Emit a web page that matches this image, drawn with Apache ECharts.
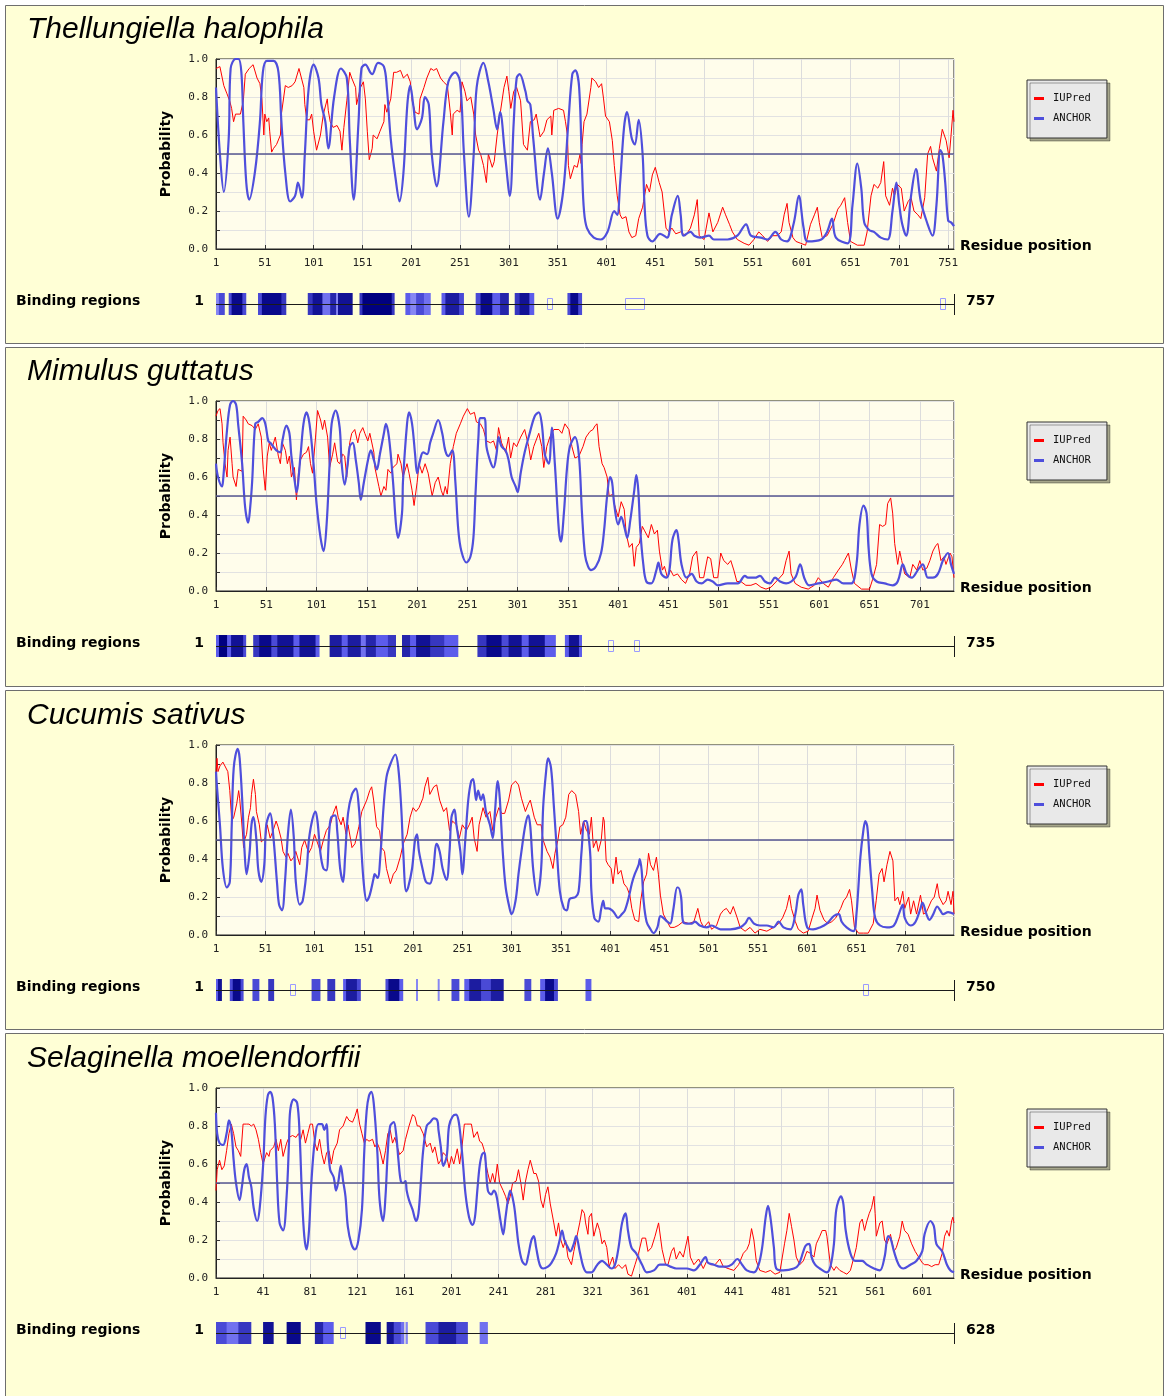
<!DOCTYPE html>
<html>
<head>
<meta charset="utf-8">
<script src="https://cdn.jsdelivr.net/npm/echarts@6/dist/echarts.min.js"></script>
<style>
  html, body { margin: 0; padding: 0; background: #ffffff; }
  #chart { width: 1164px; height: 1396px; }
</style>
</head>
<body>
<div id="chart"></div>
<script>
// ---- Sequence lengths and species ----
const speciesNames = ['Thellungiella halophila', 'Mimulus guttatus', 'Cucumis sativus', 'Selaginella moellendorffii'];
const seqLengths = [757, 735, 750, 628];
const tickSteps = [50, 50, 50, 40];

// ---- IUPred / ANCHOR profiles: [residue, probability] ----
const thelIUPred = [[1,0.95],[5,0.96],[9,0.86],[12,0.82],[15,0.78],[17,0.74],[19,0.67],[21,0.71],[26,0.71],[27,0.70],[29,0.78],[31,0.92],[35,0.95],[39,0.97],[43,0.90],[46,0.87],[48,0.79],[50,0.60],[51,0.71],[53,0.67],[55,0.69],[56,0.62],[58,0.51],[60,0.53],[63,0.55],[67,0.60],[68,0.71],[72,0.86],[75,0.85],[79,0.86],[82,0.88],[86,0.95],[88,0.96],[91,0.85],[92,0.76],[94,0.68],[97,0.68],[99,0.71],[101,0.62],[104,0.52],[106,0.53],[108,0.60],[111,0.71],[115,0.79],[116,0.73],[118,0.67],[121,0.64],[125,0.65],[128,0.62],[130,0.52],[132,0.64],[135,0.78],[138,0.93],[140,0.90],[144,0.85],[145,0.76],[149,0.85],[152,0.88],[154,0.79],[156,0.62],[158,0.47],[161,0.53],[162,0.60],[166,0.58],[169,0.62],[173,0.67],[174,0.76],[176,0.72],[180,0.79],[183,0.93],[186,0.93],[190,0.94],[193,0.90],[197,0.92],[200,0.88],[202,0.78],[205,0.72],[209,0.71],[210,0.79],[214,0.85],[217,0.90],[221,0.95],[224,0.94],[227,0.95],[231,0.90],[234,0.88],[238,0.86],[241,0.72],[243,0.60],[244,0.71],[248,0.73],[251,0.72],[253,0.88],[256,0.83],[258,0.78],[262,0.80],[265,0.71],[267,0.60],[270,0.52],[272,0.50],[275,0.44],[278,0.35],[280,0.50],[284,0.43],[286,0.46],[289,0.60],[292,0.71],[296,0.85],[299,0.91],[301,0.83],[303,0.74],[306,0.83],[309,0.85],[313,0.78],[316,0.55],[320,0.52],[323,0.67],[327,0.68],[329,0.71],[332,0.62],[333,0.59],[337,0.62],[340,0.68],[344,0.70],[345,0.60],[347,0.73],[352,0.74],[357,0.73],[359,0.67],[361,0.60],[362,0.44],[364,0.37],[368,0.44],[371,0.43],[374,0.50],[375,0.45],[376,0.55],[378,0.67],[381,0.71],[385,0.85],[386,0.90],[390,0.88],[393,0.85],[396,0.87],[398,0.79],[400,0.70],[404,0.67],[407,0.57],[409,0.44],[412,0.28],[415,0.18],[417,0.16],[421,0.17],[424,0.09],[427,0.06],[431,0.07],[434,0.16],[438,0.22],[439,0.25],[442,0.34],[445,0.30],[448,0.39],[451,0.43],[455,0.35],[458,0.30],[462,0.11],[465,0.09],[468,0.11],[472,0.08],[477,0.09],[482,0.07],[487,0.11],[491,0.18],[494,0.26],[496,0.07],[501,0.05],[506,0.19],[510,0.09],[515,0.14],[520,0.22],[523,0.18],[527,0.13],[530,0.09],[535,0.05],[542,0.03],[547,0.02],[552,0.05],[557,0.09],[561,0.07],[566,0.04],[571,0.07],[576,0.07],[580,0.09],[583,0.18],[586,0.24],[588,0.14],[592,0.06],[595,0.04],[600,0.03],[605,0.02],[610,0.13],[614,0.18],[617,0.22],[619,0.14],[622,0.06],[627,0.07],[633,0.13],[638,0.21],[641,0.23],[645,0.27],[648,0.14],[651,0.04],[658,0.02],[665,0.02],[668,0.09],[672,0.28],[675,0.34],[679,0.32],[682,0.35],[685,0.46],[687,0.28],[691,0.23],[694,0.32],[696,0.28],[699,0.34],[703,0.32],[706,0.20],[710,0.25],[713,0.27],[716,0.20],[720,0.18],[723,0.16],[727,0.27],[730,0.50],[733,0.54],[735,0.48],[739,0.41],[742,0.53],[745,0.63],[749,0.57],[752,0.48],[754,0.60],[756,0.73],[757,0.67]];
const thelANCHOR = [[1,0.85],[5,0.50],[9,0.30],[14,0.58],[16,0.95],[21,1.0],[24,1.0],[27,0.93],[29,0.67],[32,0.35],[35,0.26],[41,0.41],[46,0.67],[49,0.93],[53,0.99],[60,0.99],[65,0.93],[68,0.67],[72,0.40],[77,0.25],[82,0.28],[85,0.35],[89,0.27],[92,0.50],[96,0.85],[101,0.97],[106,0.90],[109,0.76],[113,0.67],[116,0.53],[122,0.80],[129,0.95],[135,0.90],[138,0.58],[142,0.26],[147,0.67],[150,0.95],[154,0.97],[159,0.93],[161,0.92],[167,0.98],[173,0.96],[176,0.85],[180,0.58],[185,0.37],[189,0.25],[193,0.40],[197,0.76],[200,0.86],[203,0.76],[207,0.63],[212,0.69],[215,0.80],[219,0.76],[222,0.50],[227,0.33],[234,0.67],[239,0.88],[246,0.93],[251,0.88],[255,0.50],[260,0.17],[265,0.50],[268,0.85],[275,0.98],[280,0.88],[285,0.74],[289,0.63],[292,0.72],[297,0.50],[302,0.28],[306,0.67],[309,0.90],[312,0.92],[318,0.83],[320,0.78],[323,0.76],[326,0.58],[333,0.26],[337,0.40],[341,0.53],[345,0.40],[351,0.16],[357,0.32],[362,0.67],[366,0.92],[369,0.94],[373,0.85],[376,0.41],[378,0.20],[381,0.11],[388,0.06],[395,0.05],[402,0.09],[409,0.20],[412,0.18],[415,0.35],[419,0.64],[422,0.72],[427,0.58],[430,0.55],[434,0.68],[438,0.50],[440,0.23],[443,0.07],[448,0.04],[456,0.08],[463,0.06],[468,0.18],[474,0.28],[477,0.18],[480,0.07],[487,0.09],[491,0.07],[497,0.06],[506,0.07],[511,0.05],[525,0.05],[535,0.07],[544,0.13],[549,0.07],[559,0.06],[566,0.05],[574,0.09],[580,0.05],[586,0.04],[593,0.14],[598,0.28],[603,0.11],[607,0.04],[621,0.05],[627,0.09],[632,0.16],[636,0.06],[648,0.03],[653,0.23],[658,0.45],[662,0.32],[665,0.14],[670,0.10],[675,0.09],[682,0.06],[689,0.05],[694,0.20],[698,0.35],[701,0.23],[704,0.13],[708,0.07],[713,0.28],[718,0.42],[723,0.25],[730,0.13],[735,0.07],[739,0.23],[743,0.52],[745,0.50],[748,0.35],[751,0.15],[754,0.14],[757,0.12]];

const mimIUPred = [[1,0.92],[3,0.95],[5,0.96],[7,0.88],[8,0.78],[10,0.67],[12,0.60],[13,0.74],[15,0.81],[17,0.67],[18,0.60],[21,0.55],[23,0.64],[27,0.63],[28,0.92],[31,0.90],[33,0.88],[37,0.87],[40,0.85],[43,0.88],[46,0.81],[48,0.64],[50,0.53],[52,0.71],[54,0.78],[56,0.74],[60,0.81],[61,0.82],[63,0.71],[65,0.67],[67,0.78],[70,0.74],[72,0.67],[74,0.71],[76,0.60],[79,0.65],[81,0.48],[83,0.62],[85,0.69],[88,0.72],[91,0.73],[93,0.76],[95,0.67],[97,0.62],[100,0.81],[102,0.95],[105,0.90],[107,0.85],[109,0.90],[112,0.81],[114,0.65],[117,0.72],[119,0.78],[122,0.68],[124,0.67],[127,0.72],[129,0.71],[131,0.60],[134,0.78],[136,0.83],[139,0.85],[142,0.78],[144,0.83],[147,0.86],[149,0.83],[152,0.79],[154,0.83],[158,0.73],[159,0.65],[163,0.55],[165,0.50],[168,0.55],[170,0.53],[172,0.64],[175,0.62],[177,0.65],[181,0.67],[182,0.72],[185,0.67],[187,0.60],[191,0.67],[193,0.62],[196,0.53],[198,0.45],[201,0.57],[203,0.67],[206,0.62],[209,0.67],[212,0.62],[216,0.50],[219,0.57],[222,0.60],[225,0.53],[227,0.50],[229,0.55],[231,0.51],[234,0.67],[237,0.76],[240,0.83],[244,0.88],[247,0.92],[251,0.96],[254,0.93],[258,0.94],[260,0.89],[264,0.88],[267,0.85],[270,0.79],[274,0.78],[277,0.79],[280,0.74],[282,0.86],[285,0.78],[289,0.73],[292,0.81],[294,0.70],[297,0.78],[300,0.76],[304,0.81],[308,0.85],[312,0.76],[314,0.69],[317,0.76],[322,0.83],[325,0.76],[327,0.65],[330,0.76],[333,0.81],[337,0.85],[342,0.85],[345,0.83],[348,0.88],[352,0.85],[355,0.76],[358,0.70],[362,0.71],[366,0.76],[369,0.81],[373,0.84],[376,0.85],[378,0.87],[380,0.88],[382,0.76],[385,0.67],[387,0.65],[390,0.60],[392,0.50],[396,0.51],[397,0.46],[401,0.39],[404,0.47],[407,0.43],[409,0.30],[412,0.23],[415,0.25],[417,0.13],[419,0.23],[422,0.25],[425,0.34],[427,0.32],[431,0.28],[434,0.35],[437,0.30],[440,0.32],[442,0.21],[445,0.11],[447,0.13],[450,0.07],[453,0.11],[456,0.08],[460,0.09],[464,0.06],[468,0.04],[472,0.09],[475,0.18],[479,0.21],[482,0.07],[486,0.07],[490,0.18],[493,0.17],[496,0.07],[500,0.07],[503,0.20],[506,0.16],[510,0.14],[513,0.16],[516,0.11],[519,0.05],[523,0.05],[528,0.03],[533,0.03],[538,0.04],[543,0.02],[548,0.01],[553,0.02],[560,0.06],[565,0.09],[568,0.16],[571,0.21],[573,0.09],[577,0.04],[583,0.02],[590,0.01],[596,0.03],[600,0.07],[605,0.04],[610,0.02],[615,0.07],[620,0.11],[624,0.14],[626,0.16],[630,0.20],[633,0.11],[636,0.04],[643,0.01],[651,0.01],[654,0.06],[658,0.14],[661,0.35],[664,0.34],[667,0.35],[669,0.46],[672,0.49],[674,0.41],[676,0.25],[679,0.14],[681,0.21],[683,0.16],[686,0.09],[691,0.07],[694,0.14],[698,0.11],[701,0.16],[704,0.11],[708,0.12],[711,0.16],[714,0.21],[717,0.24],[719,0.25],[722,0.16],[725,0.18],[727,0.14],[731,0.20],[733,0.18],[735,0.07]];
const mimANCHOR = [[1,0.67],[3,0.60],[7,0.55],[8,0.58],[12,0.85],[15,0.98],[18,1.0],[21,0.98],[23,0.88],[27,0.67],[30,0.44],[33,0.36],[35,0.44],[37,0.58],[40,0.88],[43,0.89],[47,0.91],[50,0.88],[53,0.79],[55,0.78],[58,0.76],[61,0.74],[65,0.73],[67,0.79],[71,0.87],[74,0.83],[76,0.71],[80,0.55],[81,0.52],[85,0.71],[88,0.88],[91,0.94],[94,0.88],[98,0.67],[101,0.46],[105,0.28],[108,0.21],[111,0.35],[114,0.67],[116,0.88],[120,0.95],[124,0.86],[126,0.67],[129,0.56],[132,0.67],[134,0.76],[137,0.78],[140,0.69],[143,0.57],[145,0.48],[148,0.57],[153,0.71],[155,0.74],[158,0.69],[161,0.64],[164,0.72],[168,0.83],[170,0.88],[173,0.81],[177,0.58],[180,0.35],[182,0.28],[186,0.41],[187,0.58],[191,0.88],[193,0.94],[196,0.88],[199,0.72],[201,0.62],[204,0.69],[207,0.73],[211,0.72],[214,0.78],[217,0.83],[222,0.90],[226,0.83],[229,0.74],[232,0.71],[236,0.74],[239,0.58],[242,0.32],[245,0.21],[250,0.15],[254,0.18],[257,0.28],[259,0.50],[262,0.81],[264,0.91],[268,0.91],[270,0.76],[274,0.68],[277,0.65],[280,0.72],[282,0.81],[285,0.76],[289,0.74],[292,0.69],[295,0.60],[299,0.55],[301,0.52],[304,0.62],[308,0.73],[313,0.83],[318,0.92],[322,0.94],[325,0.88],[328,0.72],[332,0.67],[335,0.86],[338,0.67],[342,0.32],[344,0.26],[347,0.41],[350,0.64],[353,0.76],[358,0.81],[362,0.71],[365,0.41],[368,0.19],[371,0.13],[374,0.11],[379,0.13],[384,0.20],[387,0.32],[390,0.50],[393,0.60],[395,0.57],[397,0.46],[401,0.35],[404,0.39],[407,0.34],[410,0.28],[413,0.37],[417,0.53],[419,0.61],[421,0.53],[423,0.32],[426,0.14],[429,0.05],[434,0.04],[439,0.11],[441,0.15],[444,0.09],[449,0.07],[452,0.11],[455,0.27],[459,0.32],[461,0.27],[464,0.14],[469,0.07],[474,0.09],[479,0.05],[484,0.04],[490,0.06],[495,0.05],[500,0.03],[510,0.04],[520,0.04],[527,0.08],[530,0.07],[537,0.07],[542,0.08],[547,0.05],[552,0.04],[557,0.07],[562,0.05],[568,0.04],[577,0.07],[582,0.14],[586,0.07],[591,0.03],[600,0.04],[610,0.05],[618,0.06],[625,0.04],[633,0.04],[638,0.14],[641,0.35],[645,0.45],[648,0.41],[650,0.23],[653,0.09],[658,0.05],[666,0.04],[674,0.03],[679,0.05],[683,0.13],[684,0.14],[688,0.09],[693,0.07],[699,0.11],[704,0.14],[709,0.07],[714,0.07],[719,0.09],[724,0.16],[729,0.20],[732,0.14],[735,0.09]];

const cucIUPred = [[1,0.85],[2,0.93],[3,0.86],[5,0.89],[8,0.91],[10,0.92],[13,0.86],[15,0.76],[17,0.60],[19,0.62],[22,0.69],[24,0.76],[25,0.72],[27,0.60],[29,0.46],[30,0.50],[32,0.53],[34,0.62],[36,0.67],[37,0.74],[39,0.82],[41,0.74],[42,0.65],[45,0.58],[47,0.49],[51,0.51],[53,0.58],[56,0.51],[59,0.55],[62,0.60],[64,0.57],[67,0.51],[69,0.44],[72,0.41],[74,0.43],[77,0.39],[80,0.41],[82,0.44],[86,0.37],[88,0.46],[91,0.50],[95,0.43],[98,0.46],[101,0.53],[103,0.50],[107,0.44],[110,0.50],[113,0.55],[117,0.58],[120,0.64],[123,0.68],[125,0.62],[128,0.58],[130,0.62],[133,0.53],[135,0.58],[139,0.46],[142,0.48],[146,0.57],[149,0.65],[151,0.64],[154,0.71],[157,0.76],[159,0.78],[161,0.71],[164,0.57],[167,0.55],[169,0.46],[172,0.44],[174,0.35],[178,0.27],[181,0.32],[184,0.34],[188,0.41],[191,0.48],[195,0.53],[198,0.62],[201,0.67],[204,0.65],[207,0.67],[211,0.72],[213,0.78],[216,0.83],[218,0.74],[222,0.78],[225,0.79],[228,0.71],[232,0.65],[235,0.67],[238,0.55],[241,0.60],[245,0.58],[248,0.51],[251,0.58],[255,0.55],[258,0.58],[261,0.62],[263,0.51],[266,0.44],[268,0.58],[272,0.67],[275,0.62],[279,0.65],[282,0.55],[285,0.62],[288,0.67],[291,0.64],[294,0.64],[298,0.71],[301,0.79],[305,0.81],[308,0.79],[311,0.72],[315,0.65],[318,0.69],[320,0.71],[324,0.62],[327,0.58],[331,0.58],[333,0.50],[337,0.44],[340,0.41],[343,0.35],[345,0.43],[348,0.50],[350,0.57],[353,0.58],[356,0.62],[359,0.74],[362,0.76],[366,0.74],[369,0.65],[371,0.53],[374,0.60],[377,0.55],[380,0.53],[382,0.62],[384,0.46],[387,0.50],[389,0.44],[392,0.50],[394,0.62],[395,0.60],[397,0.39],[399,0.37],[402,0.35],[404,0.27],[407,0.41],[409,0.32],[412,0.34],[415,0.27],[418,0.25],[421,0.21],[423,0.14],[426,0.08],[430,0.07],[432,0.18],[435,0.28],[438,0.32],[440,0.43],[442,0.37],[445,0.34],[448,0.41],[450,0.32],[452,0.21],[455,0.11],[459,0.07],[462,0.04],[466,0.04],[470,0.05],[475,0.07],[481,0.06],[486,0.07],[490,0.14],[493,0.07],[496,0.04],[501,0.07],[504,0.03],[509,0.05],[513,0.11],[516,0.13],[519,0.14],[523,0.11],[526,0.15],[530,0.09],[533,0.04],[538,0.02],[543,0.04],[548,0.01],[553,0.03],[560,0.02],[567,0.04],[572,0.06],[576,0.09],[580,0.14],[583,0.21],[585,0.14],[589,0.07],[592,0.03],[597,0.01],[602,0.02],[606,0.09],[609,0.14],[611,0.21],[614,0.13],[618,0.08],[622,0.06],[626,0.07],[630,0.09],[635,0.14],[638,0.18],[641,0.20],[644,0.24],[646,0.18],[649,0.04],[653,0.01],[658,0.01],[663,0.01],[668,0.06],[671,0.18],[674,0.32],[677,0.35],[679,0.28],[682,0.37],[685,0.44],[688,0.39],[690,0.18],[693,0.20],[695,0.16],[698,0.23],[700,0.14],[704,0.20],[706,0.11],[709,0.18],[712,0.11],[716,0.21],[719,0.11],[722,0.12],[727,0.18],[730,0.20],[733,0.27],[735,0.20],[739,0.16],[742,0.18],[744,0.23],[747,0.16],[749,0.23],[750,0.11]];
const cucANCHOR = [[1,0.86],[2,0.78],[5,0.58],[8,0.35],[12,0.25],[15,0.28],[17,0.58],[19,0.88],[23,0.98],[25,0.93],[28,0.67],[30,0.44],[32,0.32],[35,0.43],[37,0.58],[39,0.62],[42,0.50],[44,0.34],[47,0.28],[50,0.37],[52,0.58],[56,0.64],[59,0.53],[63,0.27],[65,0.16],[68,0.13],[71,0.28],[74,0.53],[77,0.66],[80,0.51],[82,0.28],[86,0.16],[89,0.18],[93,0.34],[96,0.53],[102,0.65],[104,0.60],[107,0.43],[110,0.35],[113,0.34],[116,0.55],[118,0.62],[122,0.63],[124,0.55],[127,0.35],[130,0.28],[132,0.41],[135,0.64],[139,0.74],[143,0.77],[146,0.67],[148,0.50],[151,0.27],[154,0.18],[157,0.21],[161,0.30],[162,0.32],[165,0.30],[168,0.43],[171,0.67],[174,0.83],[178,0.90],[183,0.95],[186,0.88],[189,0.67],[191,0.44],[194,0.23],[196,0.25],[200,0.35],[203,0.50],[205,0.53],[207,0.44],[211,0.34],[214,0.28],[218,0.27],[221,0.32],[225,0.48],[228,0.44],[231,0.35],[235,0.29],[238,0.44],[240,0.62],[243,0.66],[245,0.58],[249,0.44],[251,0.32],[254,0.50],[257,0.71],[260,0.81],[262,0.82],[265,0.71],[267,0.76],[270,0.71],[272,0.74],[275,0.65],[279,0.58],[282,0.51],[284,0.64],[287,0.81],[289,0.72],[292,0.44],[295,0.25],[299,0.14],[301,0.11],[305,0.18],[308,0.32],[311,0.44],[315,0.58],[318,0.63],[320,0.57],[323,0.34],[327,0.21],[331,0.35],[333,0.67],[336,0.86],[338,0.93],[341,0.88],[344,0.67],[347,0.44],[350,0.23],[354,0.14],[357,0.13],[360,0.19],[366,0.20],[369,0.23],[372,0.44],[375,0.60],[377,0.60],[379,0.53],[381,0.41],[382,0.23],[385,0.09],[389,0.07],[392,0.14],[394,0.18],[396,0.14],[399,0.14],[403,0.13],[406,0.11],[409,0.09],[413,0.11],[416,0.13],[420,0.20],[423,0.27],[426,0.32],[430,0.37],[431,0.40],[433,0.34],[435,0.18],[438,0.07],[442,0.03],[445,0.01],[449,0.04],[452,0.10],[455,0.09],[459,0.07],[462,0.06],[465,0.13],[469,0.25],[470,0.25],[473,0.20],[475,0.07],[479,0.06],[484,0.06],[487,0.07],[492,0.05],[499,0.04],[504,0.05],[513,0.03],[523,0.03],[533,0.04],[538,0.06],[542,0.09],[547,0.06],[553,0.05],[560,0.05],[567,0.04],[572,0.07],[577,0.04],[584,0.03],[589,0.11],[592,0.21],[595,0.24],[597,0.16],[601,0.04],[607,0.03],[614,0.04],[621,0.06],[628,0.10],[633,0.11],[636,0.07],[641,0.04],[648,0.02],[651,0.11],[655,0.41],[658,0.55],[660,0.60],[662,0.57],[664,0.43],[667,0.23],[670,0.09],[675,0.05],[682,0.04],[689,0.05],[694,0.11],[698,0.16],[700,0.09],[706,0.05],[711,0.07],[716,0.14],[718,0.17],[722,0.11],[725,0.08],[729,0.11],[733,0.15],[736,0.13],[739,0.11],[744,0.12],[750,0.11]];

const selIUPred = [[1,0.46],[2,0.57],[4,0.62],[6,0.57],[8,0.59],[10,0.67],[12,0.76],[14,0.81],[16,0.76],[18,0.69],[20,0.67],[22,0.64],[24,0.81],[27,0.81],[29,0.81],[31,0.80],[33,0.81],[35,0.78],[37,0.73],[39,0.66],[41,0.60],[44,0.66],[46,0.64],[47,0.67],[50,0.69],[52,0.73],[54,0.67],[56,0.73],[58,0.64],[61,0.71],[63,0.74],[66,0.75],[69,0.74],[71,0.76],[73,0.73],[75,0.78],[77,0.71],[79,0.76],[81,0.81],[83,0.81],[85,0.71],[87,0.67],[89,0.73],[91,0.65],[93,0.60],[95,0.66],[97,0.67],[99,0.60],[101,0.67],[104,0.71],[106,0.78],[109,0.80],[112,0.85],[114,0.83],[117,0.82],[119,0.85],[121,0.89],[123,0.81],[125,0.76],[127,0.71],[129,0.73],[131,0.72],[134,0.73],[136,0.69],[138,0.71],[140,0.68],[143,0.60],[145,0.67],[147,0.76],[149,0.78],[151,0.71],[153,0.74],[155,0.69],[157,0.65],[160,0.67],[162,0.73],[165,0.80],[168,0.86],[170,0.85],[172,0.80],[174,0.80],[177,0.76],[180,0.69],[183,0.71],[185,0.66],[187,0.69],[190,0.60],[192,0.62],[194,0.66],[197,0.64],[199,0.58],[201,0.64],[203,0.60],[206,0.68],[208,0.60],[210,0.69],[212,0.81],[214,0.81],[216,0.81],[218,0.81],[220,0.74],[223,0.77],[225,0.72],[227,0.71],[229,0.67],[230,0.61],[232,0.55],[234,0.50],[236,0.55],[238,0.50],[240,0.60],[242,0.50],[245,0.46],[247,0.43],[249,0.39],[251,0.43],[253,0.50],[256,0.51],[258,0.57],[260,0.50],[262,0.41],[264,0.51],[266,0.57],[268,0.62],[271,0.55],[273,0.55],[275,0.51],[277,0.41],[279,0.37],[281,0.44],[283,0.48],[285,0.39],[288,0.29],[290,0.22],[292,0.29],[294,0.20],[296,0.16],[298,0.20],[300,0.11],[303,0.07],[305,0.14],[307,0.20],[310,0.29],[312,0.36],[314,0.34],[315,0.29],[317,0.23],[318,0.32],[320,0.34],[322,0.22],[325,0.29],[327,0.25],[329,0.18],[331,0.20],[333,0.16],[335,0.06],[338,0.11],[340,0.05],[343,0.07],[346,0.05],[349,0.07],[351,0.02],[354,0.01],[357,0.07],[360,0.13],[363,0.21],[366,0.21],[368,0.14],[371,0.16],[374,0.22],[377,0.29],[380,0.15],[383,0.07],[385,0.07],[388,0.14],[390,0.16],[392,0.10],[395,0.14],[398,0.11],[402,0.22],[404,0.11],[407,0.07],[411,0.10],[415,0.05],[418,0.09],[421,0.07],[425,0.07],[429,0.10],[432,0.06],[436,0.05],[441,0.04],[445,0.07],[449,0.13],[452,0.15],[454,0.18],[456,0.26],[458,0.20],[460,0.09],[463,0.04],[468,0.03],[472,0.04],[476,0.02],[480,0.03],[484,0.18],[486,0.25],[488,0.34],[490,0.27],[492,0.20],[494,0.11],[497,0.07],[500,0.09],[503,0.14],[506,0.13],[509,0.11],[511,0.18],[514,0.22],[516,0.25],[519,0.25],[520,0.22],[523,0.07],[526,0.04],[528,0.06],[531,0.04],[534,0.03],[537,0.02],[540,0.04],[543,0.11],[545,0.16],[548,0.29],[550,0.31],[552,0.25],[554,0.30],[556,0.34],[558,0.37],[560,0.43],[561,0.34],[562,0.22],[565,0.29],[567,0.30],[569,0.20],[571,0.18],[574,0.23],[577,0.14],[579,0.16],[582,0.22],[584,0.30],[586,0.25],[589,0.23],[592,0.18],[595,0.14],[598,0.11],[601,0.08],[603,0.07],[606,0.07],[609,0.06],[612,0.07],[615,0.07],[618,0.13],[620,0.22],[622,0.25],[624,0.22],[626,0.30],[627,0.32],[628,0.29]];
const selANCHOR = [[1,0.87],[2,0.76],[4,0.71],[7,0.70],[10,0.76],[12,0.83],[14,0.78],[16,0.62],[18,0.50],[21,0.41],[23,0.48],[25,0.57],[27,0.60],[29,0.53],[31,0.48],[33,0.37],[36,0.30],[38,0.36],[41,0.59],[43,0.85],[45,0.96],[47,0.98],[49,0.95],[51,0.81],[53,0.50],[55,0.29],[58,0.25],[61,0.43],[63,0.71],[64,0.88],[67,0.94],[70,0.92],[72,0.76],[74,0.44],[76,0.22],[78,0.15],[80,0.25],[82,0.50],[85,0.73],[88,0.81],[91,0.81],[93,0.78],[95,0.81],[96,0.71],[98,0.57],[101,0.53],[103,0.46],[105,0.51],[107,0.59],[109,0.51],[111,0.43],[113,0.27],[116,0.18],[119,0.15],[122,0.20],[125,0.36],[127,0.67],[129,0.88],[131,0.96],[133,0.98],[135,0.92],[138,0.67],[140,0.41],[143,0.30],[145,0.43],[147,0.67],[149,0.80],[152,0.82],[154,0.76],[156,0.62],[158,0.51],[160,0.50],[162,0.51],[163,0.46],[165,0.41],[168,0.36],[171,0.30],[173,0.34],[175,0.50],[177,0.67],[180,0.80],[183,0.82],[186,0.84],[189,0.83],[190,0.78],[192,0.69],[194,0.59],[197,0.64],[199,0.80],[202,0.85],[205,0.86],[207,0.83],[209,0.73],[211,0.59],[213,0.44],[216,0.32],[219,0.28],[221,0.32],[223,0.46],[225,0.59],[227,0.65],[229,0.66],[230,0.62],[232,0.46],[235,0.44],[237,0.46],[239,0.44],[241,0.37],[243,0.29],[245,0.23],[247,0.32],[249,0.41],[251,0.46],[254,0.39],[256,0.29],[258,0.18],[261,0.09],[264,0.07],[266,0.11],[269,0.20],[271,0.22],[273,0.16],[276,0.07],[279,0.05],[283,0.06],[286,0.08],[290,0.13],[293,0.20],[295,0.25],[297,0.20],[300,0.16],[302,0.14],[305,0.18],[307,0.22],[310,0.14],[313,0.06],[316,0.03],[320,0.03],[325,0.07],[329,0.09],[333,0.07],[337,0.05],[340,0.07],[343,0.16],[346,0.29],[349,0.34],[351,0.25],[354,0.16],[358,0.13],[363,0.07],[367,0.03],[373,0.04],[378,0.07],[383,0.07],[387,0.06],[392,0.05],[401,0.05],[407,0.04],[412,0.07],[417,0.11],[419,0.08],[424,0.07],[429,0.06],[435,0.06],[439,0.07],[444,0.10],[448,0.07],[452,0.04],[458,0.03],[462,0.07],[465,0.16],[468,0.32],[470,0.38],[472,0.32],[475,0.16],[477,0.05],[483,0.04],[492,0.05],[496,0.07],[500,0.14],[502,0.17],[505,0.18],[507,0.11],[510,0.07],[514,0.05],[520,0.03],[523,0.06],[526,0.18],[528,0.36],[532,0.43],[534,0.39],[536,0.25],[540,0.13],[544,0.09],[550,0.09],[554,0.07],[560,0.05],[565,0.04],[569,0.11],[572,0.22],[574,0.21],[577,0.14],[581,0.07],[585,0.05],[591,0.07],[596,0.09],[601,0.14],[603,0.23],[608,0.30],[611,0.27],[613,0.18],[618,0.14],[622,0.07],[625,0.04],[628,0.03]];

// ---- Predicted binding regions: [first residue, last residue, score 0..1] ----
const thelBinding = [[1,4,0.3],[4,9,0.6],[14,17,0.6],[17,28,0.95],[28,31,0.6],[44,48,0.6],[48,68,0.95],[68,72,0.7],[95,100,0.7],[100,110,0.9],[110,118,0.4],[118,124,0.8],[124,126,0.3],[126,140,0.9],[148,151,0.7],[151,181,1.0],[181,183,0.7],[195,200,0.5],[200,206,0.3],[206,214,0.6],[214,220,0.4],[232,236,0.5],[236,250,0.85],[250,254,0.6],[267,272,0.6],[272,284,0.95],[284,292,0.5],[292,300,0.8],[307,312,0.7],[312,322,0.9],[322,326,0.5],[361,364,0.6],[364,372,0.95],[372,375,0.6]];
const thelShort = [[340,344],[420,438],[743,747]];

const mimBinding = [[1,4,0.5],[4,12,1.0],[12,16,0.5],[16,28,0.9],[28,30,0.6],[38,44,0.7],[44,56,0.95],[56,62,0.6],[62,78,0.9],[78,84,0.5],[84,100,0.9],[100,103,0.5],[114,126,0.85],[126,132,0.5],[132,145,0.85],[145,150,0.4],[150,160,0.8],[160,172,0.5],[172,179,0.7],[186,194,0.8],[194,200,0.5],[200,214,0.9],[214,228,0.7],[228,241,0.5],[261,270,0.7],[270,285,0.95],[285,292,0.6],[292,305,0.9],[305,312,0.5],[312,328,0.9],[328,338,0.5],[348,352,0.5],[352,362,0.9],[362,364,0.5]];
const mimShort = [[391,395],[417,421]];

const cucBinding = [[1,3,0.5],[3,6,0.9],[15,18,0.6],[18,26,0.95],[26,28,0.6],[38,44,0.6],[54,59,0.7],[98,106,0.6],[114,121,0.7],[130,133,0.5],[133,144,0.85],[144,147,0.6],[173,176,0.6],[176,187,0.95],[187,190,0.5],[204,205,0.3],[226,227,0.3],[240,247,0.6],[253,258,0.5],[258,270,0.85],[270,280,0.6],[280,292,0.85],[314,320,0.6],[330,335,0.5],[335,344,0.95],[344,347,0.6],[376,381,0.5]];
const cucShort = [[76,80],[658,662]];

const selBinding = [[1,10,0.6],[10,20,0.4],[20,30,0.7],[41,49,0.9],[61,72,0.95],[85,92,0.8],[92,100,0.5],[128,140,0.95],[146,152,0.9],[152,158,0.6],[158,160,0.4],[162,163,0.3],[179,190,0.6],[190,205,0.85],[205,214,0.6],[225,231,0.4]];
const selShort = [[106,109]];

const iupredSets = [thelIUPred, mimIUPred, cucIUPred, selIUPred];
const anchorSets = [thelANCHOR, mimANCHOR, cucANCHOR, selANCHOR];
const bindingSets = [thelBinding, mimBinding, cucBinding, selBinding];
const shortSets = [thelShort, mimShort, cucShort, selShort];

// ---- Layout ----
const PANEL_TOPS = [5, 347, 690, 1033];
const PANEL_HEIGHTS = [338, 339, 339, 370];
const PLOT_TOPS = [59, 401, 745, 1088];
const PLOT_LEFT = 216, PLOT_WIDTH = 738, PLOT_HEIGHT = 190;
const BAR_OFFSET = 245;   // binding-region track centre below plot top
const BAR_HEIGHT = 22;

const RED = '#ff0000';
const BLUE = '#4f4fdc';
const MONO = "'DejaVu Sans Mono', monospace";
const BOLD = "'DejaVu Sans', sans-serif";
const LABEL_FONT = `bold 14px ${BOLD}`;

// score -> colour: pale lavender through royal blue to navy
function shade(k) {
  const light = [196, 196, 255], mid = [92, 92, 235], dark = [0, 0, 128];
  const [a, b, t] = k < 0.5 ? [light, mid, k / 0.5] : [mid, dark, (k - 0.5) / 0.5];
  const c = a.map((v, i) => Math.round(v + (b[i] - v) * t));
  return `rgb(${c[0]},${c[1]},${c[2]})`;
}

const grids = [], xAxes = [], yAxes = [], series = [], legends = [], graphics = [];

speciesNames.forEach((name, i) => {
  const top = PLOT_TOPS[i];
  const n = seqLengths[i];
  const barY = top + BAR_OFFSET;

  // panel background
  graphics.push({
    type: 'rect', z: -10, silent: true,
    shape: { x: 5.5, y: PANEL_TOPS[i] + 0.5, width: 1158, height: PANEL_HEIGHTS[i] },
    style: { fill: '#ffffd6', stroke: '#6e6e6e', lineWidth: 1 }
  });
  graphics.push({
    type: 'text', z: 10, silent: true,
    style: { x: 27, y: top - 29, text: name, font: "italic 30px 'Liberation Sans', Arial, sans-serif", fill: '#000', verticalAlign: 'middle' }
  });
  graphics.push({
    type: 'text', z: 10, silent: true, rotation: Math.PI / 2, x: 166, y: top + PLOT_HEIGHT / 2,
    style: { x: 0, y: 0, text: 'Probability', font: LABEL_FONT, fill: '#000', align: 'center', verticalAlign: 'middle' }
  });
  graphics.push({
    type: 'text', z: 10, silent: true,
    style: { x: 960, y: top + PLOT_HEIGHT - 3, text: 'Residue position', font: LABEL_FONT, fill: '#000', verticalAlign: 'middle' }
  });
  graphics.push({
    type: 'text', z: 10, silent: true,
    style: { x: 16, y: barY - 3, text: 'Binding regions', font: LABEL_FONT, fill: '#000', verticalAlign: 'middle' }
  });
  graphics.push({
    type: 'text', z: 10, silent: true,
    style: { x: 204, y: barY - 3, text: '1', font: LABEL_FONT, fill: '#000', align: 'right', verticalAlign: 'middle' }
  });
  graphics.push({
    type: 'text', z: 10, silent: true,
    style: { x: 966, y: barY - 3, text: String(n), font: LABEL_FONT, fill: '#000', verticalAlign: 'middle' }
  });
  // binding-region track axis
  graphics.push({
    type: 'line', z: 100, silent: true,
    shape: { x1: PLOT_LEFT, y1: barY + 0.5, x2: PLOT_LEFT + PLOT_WIDTH, y2: barY + 0.5 },
    style: { stroke: '#1a1a1a', lineWidth: 1 }
  });
  graphics.push({
    type: 'line', z: 100, silent: true,
    shape: { x1: PLOT_LEFT + PLOT_WIDTH + 0.5, y1: barY - 10, x2: PLOT_LEFT + PLOT_WIDTH + 0.5, y2: barY + 11 },
    style: { stroke: '#1a1a1a', lineWidth: 1 }
  });

  // profile plot
  grids.push({
    left: PLOT_LEFT, top: top, width: PLOT_WIDTH, height: PLOT_HEIGHT,
    show: true, backgroundColor: '#fffdeb', borderColor: '#222', borderWidth: 1
  });
  // binding track
  grids.push({ left: PLOT_LEFT, top: barY - BAR_HEIGHT / 2, width: PLOT_WIDTH, height: BAR_HEIGHT, show: false });

  xAxes.push({
    gridIndex: 2 * i, type: 'value', min: 0, max: n - 1, interval: tickSteps[i],
    axisLine: { show: true, lineStyle: { color: '#222' } },
    axisTick: { show: true, inside: true, length: 4, lineStyle: { color: '#333' } },
    axisLabel: { fontFamily: MONO, fontSize: 11, color: '#222', margin: 9, showMaxLabel: false,
                 formatter: v => String(Math.round(v) + 1) },
    splitLine: { show: true, lineStyle: { color: '#dcdcdc', width: 1 } }
  });
  xAxes.push({ gridIndex: 2 * i + 1, type: 'value', min: 0, max: n - 1, show: false });

  yAxes.push({
    gridIndex: 2 * i, type: 'value', min: 0, max: 1, interval: 0.1,
    axisLine: { show: true, lineStyle: { color: '#222' } },
    axisTick: { show: true, inside: true, length: 4, lineStyle: { color: '#333' } },
    axisLabel: { fontFamily: MONO, fontSize: 11, color: '#222', margin: 8,
                 formatter: v => (Math.round(v * 10) % 2 === 0 ? v.toFixed(1) : '') },
    splitLine: { show: true, lineStyle: { color: '#e2e2e2', width: 1 } }
  });
  yAxes.push({ gridIndex: 2 * i + 1, type: 'value', min: 0, max: 1, show: false });

  series.push({
    name: 'IUPred', type: 'line', xAxisIndex: 2 * i, yAxisIndex: 2 * i,
    data: iupredSets[i].map(([r, v]) => [r - 1, v]),
    showSymbol: false, symbol: 'none', silent: true,
    lineStyle: { color: RED, width: 1 }, itemStyle: { color: RED }, z: 3,
    markLine: {
      silent: true, symbol: 'none', label: { show: false },
      lineStyle: { color: '#56568f', width: 1.5, type: 'solid' },
      data: [{ yAxis: 0.5 }]
    }
  });
  series.push({
    name: 'ANCHOR', type: 'line', xAxisIndex: 2 * i, yAxisIndex: 2 * i,
    data: anchorSets[i].map(([r, v]) => [r - 1, v]),
    showSymbol: false, symbol: 'none', silent: true, smooth: 0.35,
    lineStyle: { color: BLUE, width: 2.2 }, itemStyle: { color: BLUE }, z: 4
  });
  series.push({
    type: 'custom', xAxisIndex: 2 * i + 1, yAxisIndex: 2 * i + 1, silent: true, z: 2,
    data: bindingSets[i],
    renderItem: (params, api) => {
      const a = api.coord([api.value(0) - 1, 0]);
      const b = api.coord([api.value(1), 0]);
      const cs = params.coordSys;
      return { type: 'rect', shape: { x: a[0], y: cs.y, width: Math.max(1, b[0] - a[0]), height: cs.height },
               style: { fill: shade(api.value(2)) } };
    }
  });
  series.push({
    type: 'custom', xAxisIndex: 2 * i + 1, yAxisIndex: 2 * i + 1, silent: true, z: 2,
    data: shortSets[i],
    renderItem: (params, api) => {
      const a = api.coord([api.value(0) - 1, 0]);
      const b = api.coord([api.value(1), 0]);
      const cs = params.coordSys;
      return { type: 'rect', shape: { x: Math.round(a[0]) + 0.5, y: cs.y + 5.5, width: Math.max(3, Math.round(b[0] - a[0])), height: 11 },
               style: { fill: 'none', stroke: '#9a9aff', lineWidth: 1 } };
    }
  });

  legends.push({
    left: 1027, top: top + 21, orient: 'vertical', selectedMode: false,
    data: ['IUPred', 'ANCHOR'], icon: 'rect', itemWidth: 10, itemHeight: 3, itemGap: 7,
    padding: [12, 16, 13, 7],
    backgroundColor: '#e9e9e9', borderColor: '#333', borderWidth: 1,
    shadowColor: 'rgba(0,0,0,0.35)', shadowBlur: 0, shadowOffsetX: 3, shadowOffsetY: 3,
    textStyle: { fontFamily: MONO, fontSize: 10.5, color: '#111', padding: [0, 0, 0, 4], lineHeight: 13 }
  });
});

const chart = echarts.init(document.getElementById('chart'), null, { renderer: 'canvas' });
chart.setOption({
  animation: false,
  backgroundColor: '#ffffff',
  grid: grids,
  xAxis: xAxes,
  yAxis: yAxes,
  legend: legends,
  graphic: { elements: graphics },
  series: series
});
</script>
</body>
</html>
